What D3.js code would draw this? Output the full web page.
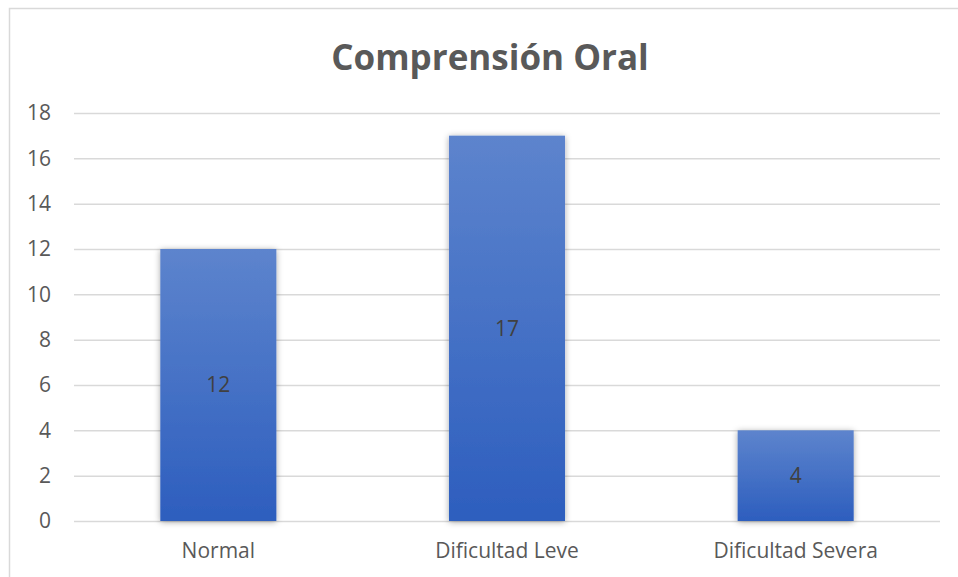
<!DOCTYPE html>
<meta charset="utf-8">
<style>
body { margin: 0; background: #fff; }
text { font-family: "Open Sans", sans-serif; fill: #595959; }
.grid line { stroke: #d9d9d9; stroke-width: 1.5; }
</style>
<body>
<script src="https://cdn.jsdelivr.net/npm/d3@7"></script>
<script>

var categories = ["Normal", "Dificultad Leve", "Dificultad Severa"];
var values = [12, 17, 4];
var yTicks = [0, 2, 4, 6, 8, 10, 12, 14, 16, 18];
var title = "Comprensión Oral";

var width = 958,
    height = 577,
    margin = {top: 113, right: 18, bottom: 56, left: 74};

var svg = d3.select("body").append("svg")
    .attr("width", width)
    .attr("height", height);

var defs = svg.append("defs");
var grad = defs.append("linearGradient")
    .attr("id", "barGrad")
    .attr("x1", 0).attr("y1", 0).attr("x2", 0).attr("y2", 1);
grad.append("stop").attr("offset", "0%").attr("stop-color", "#5d84cd");
grad.append("stop").attr("offset", "100%").attr("stop-color", "#2d5ebe");

var shadow = defs.append("filter")
    .attr("id", "shadow")
    .attr("x", "-20%").attr("y", "-20%").attr("width", "140%").attr("height", "140%");
shadow.append("feDropShadow")
    .attr("dx", 0).attr("dy", 1)
    .attr("stdDeviation", 3)
    .attr("flood-color", "#000")
    .attr("flood-opacity", 0.35);

// chart frame
svg.append("rect")
    .attr("x", 9.5).attr("y", 8.5)
    .attr("width", width + 10).attr("height", height + 10)
    .attr("fill", "none")
    .attr("stroke", "#d9d9d9")
    .attr("stroke-width", 1.5);

var x = d3.scaleBand()
    .domain(categories)
    .range([margin.left, width - margin.right])
    .paddingInner(0.598)
    .paddingOuter(0.299);

var y = d3.scaleLinear()
    .domain([0, 18])
    .range([height - margin.bottom, margin.top]);

svg.append("text")
    .attr("x", 490)
    .attr("y", 70)
    .attr("text-anchor", "middle")
    .style("font-size", "35px")
    .style("font-weight", "bold")
    .text(title);

var grid = svg.append("g")
    .attr("class", "grid")
    .attr("transform", "translate(" + margin.left + ",0)")
    .call(d3.axisLeft(y).tickValues(yTicks).tickSize(-(width - margin.left - margin.right)).tickFormat("").tickSizeOuter(0));
grid.select(".domain").remove();

var yAxis = svg.append("g")
    .attr("transform", "translate(" + margin.left + ",0)")
    .call(d3.axisLeft(y).tickValues(yTicks).tickSize(0).tickPadding(23));
yAxis.select(".domain").remove();
yAxis.selectAll("text")
    .style("font-size", "21px")
    .style("font-family", "'Open Sans', sans-serif")
    .attr("fill", "#595959");

var xAxis = svg.append("g")
    .attr("transform", "translate(0," + (height - margin.bottom) + ")")
    .call(d3.axisBottom(x).tickSize(0).tickPadding(22));
xAxis.select(".domain").remove();
xAxis.selectAll("text")
    .style("font-size", "21px")
    .style("font-family", "'Open Sans', sans-serif")
    .attr("fill", "#595959");

var bars = svg.selectAll(".bar")
    .data(values)
  .enter().append("g")
    .attr("class", "bar");

bars.append("rect")
    .attr("x", function(d, i) { return x(categories[i]); })
    .attr("y", function(d) { return y(d); })
    .attr("width", x.bandwidth())
    .attr("height", function(d) { return y(0) - y(d); })
    .attr("fill", "url(#barGrad)")
    .attr("filter", "url(#shadow)");

bars.append("text")
    .attr("x", function(d, i) { return x(categories[i]) + x.bandwidth() / 2; })
    .attr("y", function(d) { return (y(d) + y(0)) / 2; })
    .attr("dy", ".35em")
    .attr("text-anchor", "middle")
    .style("font-size", "21px")
    .style("fill", "#404040")
    .text(function(d) { return d; });

</script>
</body>
</html>
